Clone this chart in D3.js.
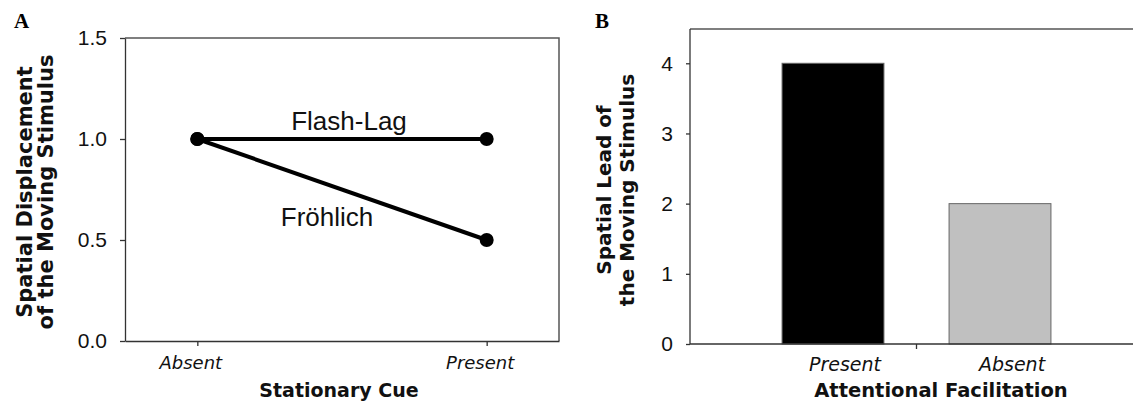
<!DOCTYPE html>
<html>
<head>
<meta charset="utf-8">
<script src="https://cdn.jsdelivr.net/npm/d3@7"></script>
<style>
  body { margin: 0; background: #fff; }
  svg { display: block; }
  .tick text { font-family: "Liberation Sans", Arial, sans-serif; fill: #111; }
  .title { font-family: "DejaVu Sans", Verdana, sans-serif; font-weight: bold; fill: #111; }
  .cat text { font-family: "DejaVu Sans", Verdana, sans-serif; font-style: italic; fill: #111; }
</style>
</head>
<body>
<svg width="1133" height="403"></svg>
<script>

// panel A data
var cueLevels = ['Absent', 'Present']
var flashLag = [1.0, 1.0]
var frohlich = [1.0, 0.5]
var yTicksA = [0, 0.5, 1.0, 1.5]

// panel B data
var facilitation = ['Present', 'Absent']
var spatialLead = [4, 2]
var yTicksB = [0, 1, 2, 3, 4]

var barFill = ['#000000', '#c0c0c0']
var axisColor = '#333'

var svg = d3.select('svg')

// ---------- panel A ----------
var boxA = {left: 125, right: 559, top: 38, bottom: 341}

var xA = d3.scalePoint().domain(cueLevels).range([boxA.left, boxA.right]).padding(0.25)
var yA = d3.scaleLinear().domain([0, 1.5]).range([boxA.bottom, boxA.top])

var gA = svg.append('g')

// frame top + right
gA.append('path')
  .attr('d', 'M' + boxA.left + ',' + boxA.top + 'H' + boxA.right + 'V' + boxA.bottom)
  .attr('fill', 'none').attr('stroke', '#555').attr('stroke-width', 1.5)

gA.append('g')
  .attr('transform', 'translate(' + boxA.left + ',0)')
  .call(d3.axisLeft(yA).tickValues(yTicksA).tickFormat(d3.format('.1f')).tickSize(5).tickSizeOuter(0).tickPadding(13))
  .call(function(g){
    g.selectAll('.tick text').style('font-size', '21px')
    g.selectAll('line, path').attr('stroke', axisColor).attr('stroke-width', 1.3)
  })

gA.append('g')
  .attr('class', 'cat')
  .attr('transform', 'translate(0,' + boxA.bottom + ')')
  .call(d3.axisBottom(xA).tickSize(5).tickSizeOuter(0).tickPadding(10))
  .call(function(g){
    g.selectAll('.tick text').style('font-size', '18px').attr('dx', -7)
    g.selectAll('line, path').attr('stroke', axisColor).attr('stroke-width', 1.3)
  })

var line = d3.line()
  .x(function(d, i){ return xA(cueLevels[i]) })
  .y(function(d){ return yA(d) })

var series = [flashLag, frohlich]
gA.selectAll('.series')
  .data(series)
  .enter()
  .append('path')
  .attr('d', line)
  .attr('fill', 'none')
  .attr('stroke', '#000')
  .attr('stroke-width', 4)

series.forEach(function(s){
  gA.selectAll(null)
    .data(s)
    .enter()
    .append('circle')
    .attr('cx', function(d, i){ return xA(cueLevels[i]) })
    .attr('cy', function(d){ return yA(d) })
    .attr('r', 7)
    .attr('fill', '#000')
})

var midA = (xA(cueLevels[0]) + xA(cueLevels[1])) / 2
gA.append('text')
  .text('Flash-Lag')
  .attr('x', midA + 7)
  .attr('y', yA(flashLag[1]) - 9)
  .attr('text-anchor', 'middle')
  .style('font-family', '"Liberation Sans", Arial, sans-serif')
  .style('font-size', '26px')
  .attr('fill', '#111')

gA.append('text')
  .text('Fröhlich')
  .attr('x', midA - 15)
  .attr('y', yA(d3.mean(frohlich)) + 36)
  .attr('text-anchor', 'middle')
  .style('font-family', '"Liberation Sans", Arial, sans-serif')
  .style('font-size', '26px')
  .attr('fill', '#111')

gA.append('text')
  .attr('class', 'title')
  .text('Stationary Cue')
  .attr('x', 339).attr('y', 397)
  .attr('text-anchor', 'middle')
  .style('font-size', '19px')

var yTitleA = gA.append('text')
  .attr('class', 'title')
  .attr('transform', 'translate(32,192) rotate(-90)')
  .attr('text-anchor', 'middle')
  .style('font-size', '21px')
yTitleA.append('tspan').attr('x', 0).attr('y', 0).text('Spatial Displacement')
yTitleA.append('tspan').attr('x', 0).attr('y', 21).text('of the Moving Stimulus')

gA.append('text')
  .text('A')
  .attr('x', 14).attr('y', 28)
  .style('font-family', '"Liberation Serif", "Times New Roman", serif')
  .style('font-weight', 'bold')
  .style('font-size', '21px')

// ---------- panel B ----------
var boxB = {left: 690, right: 1140, top: 29, bottom: 344}

var xB = d3.scaleBand().domain(facilitation).range([749.5, 1083.5]).paddingInner(0.39).paddingOuter(0.195)
var yB = d3.scaleLinear().domain([0, 4.5]).range([boxB.bottom, 28.2])

var gB = svg.append('g')

gB.append('path')
  .attr('d', 'M' + boxB.left + ',' + boxB.top + 'H' + boxB.right)
  .attr('fill', 'none').attr('stroke', '#555').attr('stroke-width', 1.5)

gB.selectAll('rect')
  .data(spatialLead)
  .enter()
  .append('rect')
  .attr('x', function(d, i){ return xB(facilitation[i]) })
  .attr('y', function(d){ return yB(d) })
  .attr('width', xB.bandwidth())
  .attr('height', function(d){ return yB(0) - yB(d) })
  .attr('fill', function(d, i){ return barFill[i] })
  .attr('stroke', '#666')
  .attr('stroke-width', 1)

gB.append('g')
  .attr('transform', 'translate(' + boxB.left + ',0)')
  .call(d3.axisLeft(yB).tickValues(yTicksB).tickFormat(d3.format('d')).tickSize(4).tickSizeOuter(0).tickPadding(13))
  .call(function(g){
    g.select('.domain').attr('d', 'M0,' + boxB.top + 'V' + boxB.bottom)
    g.selectAll('.tick text').style('font-size', '21px')
    g.selectAll('line, path').attr('stroke', axisColor).attr('stroke-width', 1.3)
  })

gB.append('g')
  .attr('class', 'cat')
  .attr('transform', 'translate(0,' + boxB.bottom + ')')
  .call(d3.axisBottom(xB).tickSize(0).tickPadding(14))
  .call(function(g){
    g.select('.domain').attr('d', 'M' + boxB.left + ',0H' + boxB.right)
    g.selectAll('.tick text').style('font-size', '19px').attr('dx', 12)
    g.selectAll('path').attr('stroke', axisColor).attr('stroke-width', 1.3)
  })

// single tick between the two bars
var midB = (xB(facilitation[0]) + xB.bandwidth() + xB(facilitation[1])) / 2
gB.append('line')
  .attr('x1', midB).attr('x2', midB)
  .attr('y1', boxB.bottom).attr('y2', boxB.bottom + 5)
  .attr('stroke', axisColor).attr('stroke-width', 1.3)

gB.append('text')
  .attr('class', 'title')
  .text('Attentional Facilitation')
  .attr('x', 941).attr('y', 397)
  .attr('text-anchor', 'middle')
  .style('font-size', '19.5px')

var yTitleB = gB.append('text')
  .attr('class', 'title')
  .attr('transform', 'translate(611,190) rotate(-90)')
  .attr('text-anchor', 'middle')
  .style('font-size', '20px')
yTitleB.append('tspan').attr('x', 0).attr('y', 0).text('Spatial Lead of')
yTitleB.append('tspan').attr('x', 0).attr('y', 23).text('the Moving Stimulus')

gB.append('text')
  .text('B')
  .attr('x', 595).attr('y', 28)
  .style('font-family', '"Liberation Serif", "Times New Roman", serif')
  .style('font-weight', 'bold')
  .style('font-size', '21px')

</script>
</body>
</html>
